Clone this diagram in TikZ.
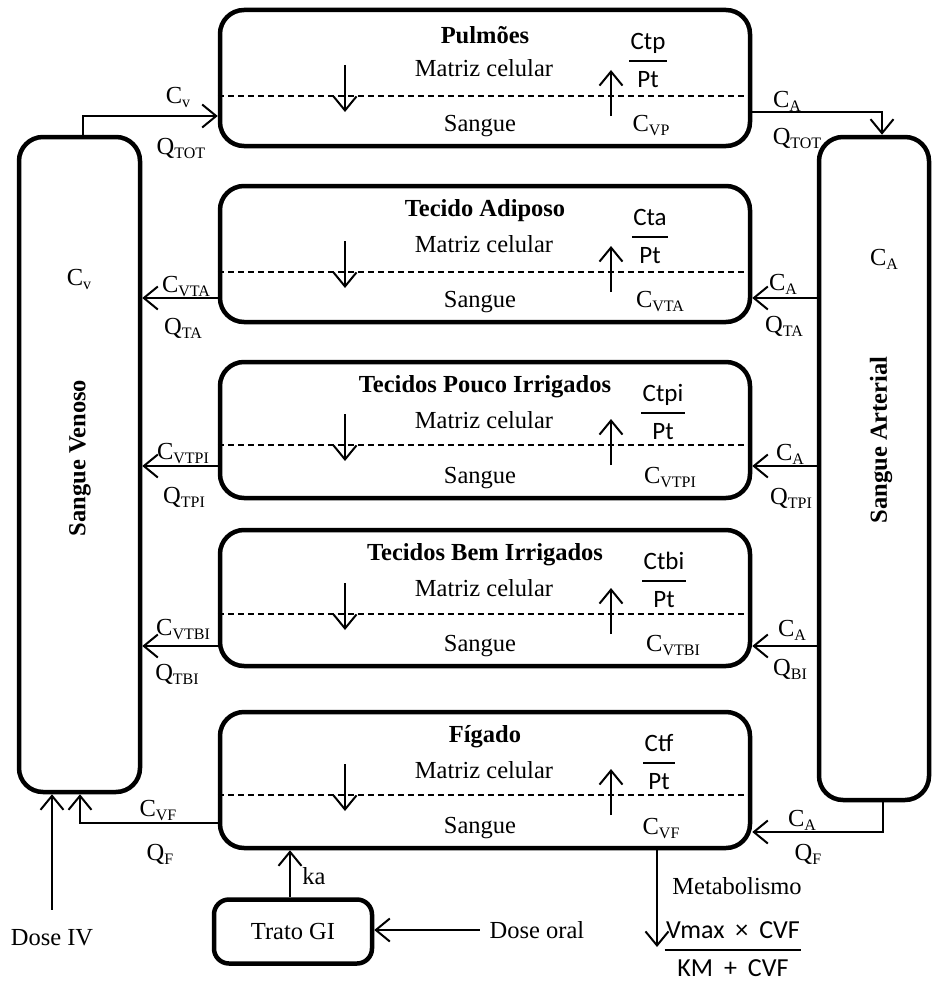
\documentclass[tikz,border=0pt]{standalone}
\usepackage{fontspec}
\setmainfont{Liberation Serif}
\newfontfamily\calfont{Carlito}
\usetikzlibrary{arrows.meta,calc}

% lowered, reduced subscript for flow and concentration labels
\newcommand\lowsub[1]{\raisebox{-4pt}{\fontsize{16}{16}\selectfont #1}}
% partition-coefficient style fraction set in a sans face
\newcommand\ratio[3][25]{{\calfont\fontsize{#1}{28}\selectfont
  \renewcommand\arraystretch{1.3}\setlength\arrayrulewidth{1.8pt}%
  \begin{tabular}{@{\hspace{1.5pt}}c@{\hspace{1.5pt}}}#2\\\hline #3\end{tabular}}}
\newcommand\opsp{\hspace{0.42em}}

\begin{document}
\begin{tikzpicture}[x=1pt,y=-1pt,
  font=\fontsize{24.5}{29}\selectfont,
  compart/.style={draw, line width=4.5pt, rounded corners=24pt, inner sep=0pt},
  flow/.style={line width=2pt, -{Straight Barb[length=14pt,width=23pt]}},
  membrane/.style={line width=1.8pt, dash pattern=on 6pt off 4pt},
  lbl/.style={inner sep=0pt},
  ttl/.style={inner sep=0pt, font=\fontsize{24.5}{29}\selectfont\bfseries}]
\useasboundingbox (0,0) rectangle (932,982);

% venous and arterial blood pools
\node[compart, minimum width=121pt, minimum height=655pt] (ven) at (79.5,464.5) {};
\node[compart, minimum width=110pt, minimum height=663pt] (art) at (874,468.5) {};
\node[ttl, rotate=90] (venname) at (80,458) {Sangue Venoso};
\node[ttl, rotate=90] (artname) at (881,440) {Sangue Arterial};
\node[lbl] (vencv) at (79,279) {C\lowsub{v}};
\node[lbl] (artca) at (884,259) {C\lowsub{A}};

% organ compartments: cell matrix above the dashed membrane, blood below
\foreach \i/\ty/\dy/\ttxt/\fx/\nm/\cx/\clab in {
  1/8/96/{Pulmões}/648/Ctp/651/{C\lowsub{VP}},
  2/184/272/{Tecido Adiposo}/650/Cta/660/{C\lowsub{VTA}},
  3/360/445/{Tecidos Pouco Irrigados}/663/Ctpi/670/{C\lowsub{VTPI}},
  4/528/614/{Tecidos Bem Irrigados}/664/Ctbi/673/{C\lowsub{VTBI}},
  5/710/795/{Fígado}/659/Ctf/661/{C\lowsub{VF}}}
{
  \node[compart, minimum width=530pt, minimum height=136pt] (org\i) at (485,\ty+70) {};
  \node[ttl] (ttl\i) at (485,\ty+27) {\ttxt};
  \node[lbl] (mat\i) at (484,\ty+60) {Matriz celular};
  \node[lbl] (sg\i) at (480,\ty+118) {Sangue};
  \node[lbl] (fr\i) at (\fx,\ty+53) {\ratio{\nm}{Pt}};
  \node[lbl] (cin\i) at (\cx,\ty+118) {\clab};
  \coordinate (mem\i) at (0,\dy);
  \draw[membrane] (org\i.west |- mem\i) -- (org\i.east |- mem\i);
  \coordinate (dn\i) at (345,\dy-31);
  \coordinate (up\i) at (611,\dy+20);
  \draw[flow] (dn\i) -- ++(0,47);
  \draw[flow] (up\i) -- ++(0,-46);
}

% lungs: venous return in, arterial supply out
\coordinate (j1) at (83,116);
\draw[flow] (ven.north -| j1) |- (org1.west |- j1);
\coordinate (j2) at (882,112);
\draw[flow] (org1.east |- j2) -| (art.north -| j2);
\node[lbl] (l1a) at (178,97) {C\lowsub{v}};
\node[lbl] (l1b) at (181,148) {Q\lowsub{TOT}};
\node[lbl] (r1a) at (787,101) {C\lowsub{A}};
\node[lbl] (r1b) at (797,138) {Q\lowsub{TOT}};

% peripheral tissues
\foreach \i/\y in {2/298,3/466,4/646} {
  \coordinate (lv\i) at (0,\y);
  \draw[flow] (art.west |- lv\i) -- (org\i.east |- lv\i);
  \draw[flow] (org\i.west |- lv\i) -- (ven.east |- lv\i);
}
\node[lbl] (l2a) at (186,287) {C\lowsub{VTA}};
\node[lbl] (l2b) at (183,328) {Q\lowsub{TA}};
\node[lbl] (r2a) at (783,284) {C\lowsub{A}};
\node[lbl] (r2b) at (784,326) {Q\lowsub{TA}};
\node[lbl] (l3a) at (183,454) {C\lowsub{VTPI}};
\node[lbl] (l3b) at (184,497) {Q\lowsub{TPI}};
\node[lbl] (r3a) at (790,454) {C\lowsub{A}};
\node[lbl] (r3b) at (791,498) {Q\lowsub{TPI}};
\node[lbl] (l4a) at (183,630) {C\lowsub{VTBI}};
\node[lbl] (l4b) at (177,674) {Q\lowsub{TBI}};
\node[lbl] (r4a) at (792,630) {C\lowsub{A}};
\node[lbl] (r4b) at (790,669) {Q\lowsub{BI}};

% liver
\coordinate (j3) at (80,823);
\draw[flow] (org5.west |- j3) -| (ven.south -| j3);
\coordinate (j4) at (883,832);
\draw[flow] (art.south -| j4) |- (org5.east |- j4);
\node[lbl] (l5a) at (158,810) {C\lowsub{VF}};
\node[lbl] (l5b) at (160,854) {Q\lowsub{F}};
\node[lbl] (r5a) at (802,820) {C\lowsub{A}};
\node[lbl] (r5b) at (808,854) {Q\lowsub{F}};

% dosing routes
\node[lbl] (doseiv) at (52,938) {Dose IV};
\draw[flow, shorten <=20pt] (doseiv.north) -- (doseiv.north |- ven.south);
\node[compart, rounded corners=15pt, minimum width=158pt, minimum height=64pt] (gi) at (293,931.5) {Trato GI};
\draw[flow] (gi.north -| 290,0) -- (org5.south -| 290,0);
\node[lbl] (ka) at (314,876) {ka};
\node[lbl] (doseoral) at (537,930) {Dose oral};
\draw[flow, shorten <=10pt] (doseoral.west) -- (gi.east |- doseoral.west);

% hepatic metabolism
\coordinate (mend) at (657,947);
\draw[flow] (org5.south -| mend) -- (mend);
\node[lbl] (metab) at (737,886) {Metabolismo};
\node[lbl] (mm) at (733,950) {\ratio[26]{Vmax\opsp×\opsp CVF}{KM\opsp+\opsp CVF}};
\end{tikzpicture}
\end{document}
